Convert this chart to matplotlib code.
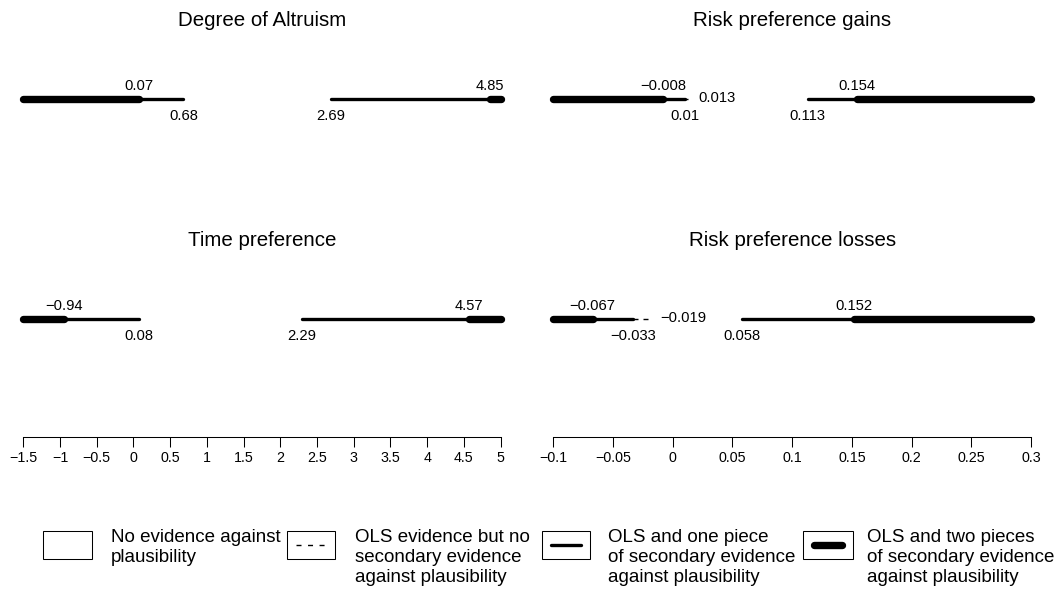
import matplotlib
matplotlib.use("Agg")
import matplotlib.pyplot as plt
from matplotlib.patches import Rectangle

plt.rcParams['font.family'] = ['Liberation Sans', 'DejaVu Sans']
plt.rcParams['lines.scale_dashes'] = False

M = '\u2212'

# ---------------- data ----------------
# breakpoints of each interval and evidence level of each piece between them
# level: 0 = no evidence, 1 = OLS only, 2 = OLS + one piece, 3 = OLS + two pieces
altruism_breaks = [-1.5, 0.07, 0.68, 2.69, 4.85, 5.0]
altruism_levels = [3, 2, 0, 2, 3]
altruism_labels = ["0.07", "0.68", "2.69", "4.85"]
altruism_pos = ["above", "below", "below", "above"]

time_breaks = [-1.5, -0.94, 0.08, 2.29, 4.57, 5.0]
time_levels = [3, 2, 0, 2, 3]
time_labels = [M + "0.94", "0.08", "2.29", "4.57"]
time_pos = ["above", "below", "below", "above"]

gains_breaks = [-0.1, -0.008, 0.01, 0.013, 0.113, 0.154, 0.3]
gains_levels = [3, 2, 1, 0, 2, 3]
gains_labels = [M + "0.008", "0.01", "0.013", "0.113", "0.154"]
gains_pos = ["above", "below", "right", "below", "above"]

losses_breaks = [-0.1, -0.067, -0.033, -0.019, 0.058, 0.152, 0.3]
losses_levels = [3, 2, 1, 0, 2, 3]
losses_labels = [M + "0.067", M + "0.033", M + "0.019", "0.058", "0.152"]
losses_pos = ["above", "below", "right", "below", "above"]

left_ticks = [-1.5, -1, -0.5, 0, 0.5, 1, 1.5, 2, 2.5, 3, 3.5, 4, 4.5, 5]
left_ticklabels = [M + "1.5", M + "1", M + "0.5", "0", "0.5", "1", "1.5", "2",
                   "2.5", "3", "3.5", "4", "4.5", "5"]
right_ticks = [-0.1, -0.05, 0, 0.05, 0.1, 0.15, 0.2, 0.25, 0.3]
right_ticklabels = [M + "0.1", M + "0.05", "0", "0.05", "0.1", "0.15", "0.2",
                    "0.25", "0.3"]

left_titles = ["Degree of Altruism", "Time preference"]
right_titles = ["Risk preference gains", "Risk preference losses"]

legend_texts = [
    ["No evidence against", "plausibility"],
    ["OLS evidence but no", "secondary evidence", "against plausibility"],
    ["OLS and one piece", "of secondary evidence", "against plausibility"],
    ["OLS and two pieces", "of secondary evidence", "against plausibility"],
]

# ---------------- styling ----------------
W, H = 1061, 596
fig = plt.figure(figsize=(W / 100, H / 100), dpi=100)

PX = 0.72  # points per pixel at 100 dpi
ROW0_PX, ROW_STEP_PX, AXIS_PX = 99, 220, 437
VAL_FS = 10.6
TICK_FS = 10.3
TITLE_FS = 14.8
LEG_FS = 13.5

LW = {1: 1.0, 2: 2.4, 3: 5.3}


def make_axes(x0_px, x1_px, xlim):
    ax = fig.add_axes([x0_px / W, 1 - AXIS_PX / H, (x1_px - x0_px) / W, AXIS_PX / H])
    ax.set_xlim(*xlim)
    ymin = (AXIS_PX - ROW0_PX) / ROW_STEP_PX
    ymax = -ROW0_PX / ROW_STEP_PX
    ax.set_ylim(ymin, ymax)
    ax.patch.set_visible(False)
    for s in ["left", "right", "top"]:
        ax.spines[s].set_visible(False)
    ax.spines["bottom"].set_linewidth(0.75)
    ax.set_yticks([])
    ax.tick_params(axis="x", direction="out", length=7.2, width=0.75, pad=3.0,
                   labelsize=TICK_FS, color="black")
    return ax


def draw_row(ax, row, breaks, levels, labels, pos, title):
    for a, b, lev in zip(breaks[:-1], breaks[1:], levels):
        if lev == 0:
            continue
        if lev == 1:
            ax.plot([a, b], [row, row], color="black", lw=LW[1],
                    linestyle=(0, (3.6, 3.6)), dash_capstyle="butt", clip_on=False)
        else:
            ax.plot([a, b], [row, row], color="black", lw=LW[lev],
                    solid_capstyle="round", clip_on=False)
    for x, txt, p in zip(breaks[1:-1], labels, pos):
        if p == "above":
            off, ha = (0, 8.5 * PX), "center"
        elif p == "below":
            off, ha = (0, -20.5 * PX), "center"
        else:
            off, ha = (10 * PX, -3.5 * PX), "left"
        ax.annotate(txt, xy=(x, row), xytext=off, textcoords="offset points",
                    ha=ha, va="baseline", fontsize=VAL_FS)
    xc = sum(ax.get_xlim()) / 2
    ax.annotate(title, xy=(xc, row), xytext=(0, (ROW0_PX - 26) * PX),
                textcoords="offset points", ha="center", va="baseline",
                fontsize=TITLE_FS)


axL = make_axes(23.3, 500.6, (-1.5, 5))
axL.set_xticks(left_ticks)
axL.set_xticklabels(left_ticklabels)
draw_row(axL, 0, altruism_breaks, altruism_levels, altruism_labels, altruism_pos, left_titles[0])
draw_row(axL, 1, time_breaks, time_levels, time_labels, time_pos, left_titles[1])

axR = make_axes(553.3, 1031.0, (-0.1, 0.3))
axR.set_xticks(right_ticks)
axR.set_xticklabels(right_ticklabels)
draw_row(axR, 0, gains_breaks, gains_levels, gains_labels, gains_pos, right_titles[0])
draw_row(axR, 1, losses_breaks, losses_levels, losses_labels, losses_pos, right_titles[1])

# ---------------- legend ----------------
lg = fig.add_axes([0, 0, 1, 1])
lg.set_xlim(0, W)
lg.set_ylim(H, 0)
lg.axis("off")
lg.patch.set_visible(False)

box_x = [42.7, 287.0, 541.7, 803.3]
box_w = [49, 48, 48.5, 50]
text_x = [111, 355, 608, 867]
box_top, box_h = 531, 28
line_y = 545
for i in range(4):
    lg.add_patch(Rectangle((box_x[i], box_top), box_w[i], box_h, facecolor="white",
                           edgecolor="black", lw=0.75))
    cx = box_x[i] + box_w[i] / 2
    if i == 1:
        lg.plot([cx - 15, cx + 15], [line_y, line_y], color="black", lw=LW[1],
                linestyle=(0, (3.6, 4.7)), dash_capstyle="butt")
    elif i == 2:
        lg.plot([cx - 15, cx + 15], [line_y, line_y], color="black", lw=LW[2],
                solid_capstyle="round")
    elif i == 3:
        lg.plot([cx - 14, cx + 14], [line_y, line_y], color="black", lw=LW[3],
                solid_capstyle="round")
    for j, t in enumerate(legend_texts[i]):
        lg.text(text_x[i], 542 + 20 * j, t, ha="left", va="baseline", fontsize=LEG_FS)

fig.savefig("out.png", dpi=100)
